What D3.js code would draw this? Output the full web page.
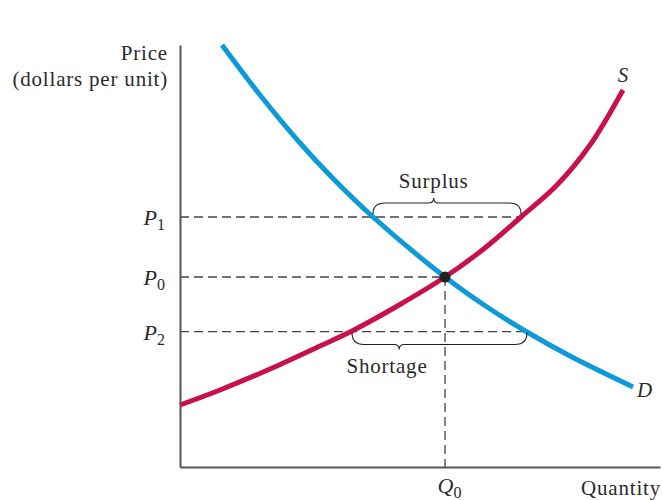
<!DOCTYPE html>
<html>
<head>
<meta charset="utf-8">
<script src="https://cdn.jsdelivr.net/npm/d3@7"></script>
<style>
  html, body { margin: 0; padding: 0; background: #fff; }
  svg text { font-family: "Liberation Serif", "DejaVu Serif", serif; fill: #2a2a2a; }
</style>
</head>
<body>
<svg id="chart" width="662" height="500"></svg>
<script>
// ---- data (axes 0..100 in arbitrary units) ----
const demandQuantity = [8.75, 16.67, 25.0, 31.88, 40.21, 55.21, 63.96, 72.29, 81.25, 94.38];
const demandPrice    = [100, 88.15, 76.78, 68.36, 59.24, 45.02, 37.91, 31.99, 26.30, 18.96];
const supplyQuantity = [0, 8.33, 18.75, 29.17, 35.83, 45.83, 55.21, 63.13, 71.04, 78.54, 85.42, 92.29];
const supplyPrice    = [14.69, 18.25, 23.22, 28.67, 32.23, 38.51, 45.02, 51.54, 59.24, 66.82, 76.30, 89.34];
const priceLevels    = [59.24, 45.02, 32.1];
const priceLabels    = [["P", "1"], ["P", "0"], ["P", "2"]];
const equilibriumQ   = [55.21];
const quantityLabels = [["Q", "0"]];
const surplusRange   = [40.21, 71.04];   // demand and supply quantities at P1
const shortageRange  = [35.83, 72.29];   // supply and demand quantities at P2

const svg = d3.select("#chart");
const x = d3.scaleLinear().domain([0, 100]).range([180, 660]);
const y = d3.scaleLinear().domain([0, 100]).range([467, 45]);

const line = d3.line().x(d => x(d[0])).y(d => y(d[1])).curve(d3.curveCatmullRom.alpha(0.5));
const demand = demandQuantity.map((q, i) => [q, demandPrice[i]]);
const supply = supplyQuantity.map((q, i) => [q, supplyPrice[i]]);

const FS = 21, LS = "0.8px";

// dashed guide lines
const dash = "9,5";
const g = svg.append("g");
const guideEnds = [surplusRange[1], equilibriumQ[0], shortageRange[1]];
g.selectAll("line.h").data(priceLevels).join("line")
  .attr("x1", x(0)).attr("x2", (d, i) => x(guideEnds[i]))
  .attr("y1", d => y(d)).attr("y2", d => y(d))
  .attr("stroke", "#444").attr("stroke-width", 1.3).attr("stroke-dasharray", dash);
g.selectAll("line.v").data(equilibriumQ).join("line")
  .attr("x1", d => x(d)).attr("x2", d => x(d))
  .attr("y1", y(priceLevels[1])).attr("y2", y(0))
  .attr("stroke", "#444").attr("stroke-width", 1.3).attr("stroke-dasharray", dash);

// axes
const yAxis = d3.axisLeft(y).tickValues(priceLevels).tickSize(0).tickSizeOuter(0).tickPadding(15).tickFormat("");
const xAxis = d3.axisBottom(x).tickValues(equilibriumQ).tickSize(0).tickSizeOuter(0).tickFormat("");
const ya = svg.append("g").attr("transform", `translate(${x(0)},0)`).call(yAxis);
const xa = svg.append("g").attr("transform", `translate(0,${y(0)})`).call(xAxis);
[ya, xa].forEach(a => a.select(".domain").attr("stroke", "#555").attr("stroke-width", 2));

ya.selectAll(".tick text").each(function(d, i) {
  const t = d3.select(this).attr("font-size", 22).attr("dy", "0.36em").attr("text-anchor", "end");
  t.append("tspan").attr("font-style", "italic").text(priceLabels[i][0]);
  t.append("tspan").attr("font-size", 16).attr("dy", "0.3em").text(priceLabels[i][1]);
});
xa.selectAll(".tick text").each(function(d, i) {
  const t = d3.select(this).attr("font-size", 22).attr("y", 26).attr("dy", 0)
    .attr("dx", -8).attr("text-anchor", "start");
  t.append("tspan").attr("font-style", "italic").text(quantityLabels[i][0]);
  t.append("tspan").attr("font-size", 16).attr("dy", "0.3em").text(quantityLabels[i][1]);
});

// curves
svg.append("path").datum(supply).attr("d", line)
  .attr("fill", "none").attr("stroke", "#c8104a").attr("stroke-width", 5);
svg.append("path").datum(demand).attr("d", line)
  .attr("fill", "none").attr("stroke", "#0e9ad8").attr("stroke-width", 5);

// equilibrium point
svg.append("circle").attr("cx", x(equilibriumQ[0])).attr("cy", y(priceLevels[1]))
  .attr("r", 5.5).attr("fill", "#222");

// braces
function brace(x1, x2, xm, y0, dir, h) {
  const r = 12, yl = y0 + dir * h, yt = yl + dir * 5;
  return `M${x1},${y0} Q${x1},${yl} ${x1 + r},${yl} L${xm - 5},${yl} Q${xm},${yl} ${xm},${yt} ` +
         `Q${xm},${yl} ${xm + 5},${yl} L${x2 - r},${yl} Q${x2},${yl} ${x2},${y0}`;
}
const sx1 = x(surplusRange[0]), sx2 = x(surplusRange[1]);
svg.append("path").attr("d", brace(sx1, sx2, sx1 + (sx2 - sx1) * 0.41, y(priceLevels[0]) - 3, -1, 11))
  .attr("fill", "none").attr("stroke", "#222").attr("stroke-width", 1.1);
const hx1 = x(shortageRange[0]), hx2 = x(shortageRange[1]);
svg.append("path").attr("d", brace(hx1, hx2, hx1 + (hx2 - hx1) * 0.27, y(priceLevels[2]) + 1, 1, 12))
  .attr("fill", "none").attr("stroke", "#222").attr("stroke-width", 1.1);

// text labels
function label(tx, ty, anchor, s) {
  return svg.append("text").attr("x", tx).attr("y", ty).attr("text-anchor", anchor)
    .attr("font-size", FS).attr("letter-spacing", LS).text(s);
}
label(sx1 + (sx2 - sx1) * 0.41, 188, "middle", "Surplus");
label(hx1 + (hx2 - hx1) * 0.2, 373, "middle", "Shortage");
label(168, 60, "end", "Price");
label(168, 86, "end", "(dollars per unit)");
label(661, 495, "end", "Quantity");
svg.append("text").attr("x", x(supplyQuantity[supplyQuantity.length - 1])).attr("y", 82).attr("text-anchor", "middle")
  .attr("font-size", 21).attr("font-style", "italic").text("S");
svg.append("text").attr("x", x(demandQuantity[demandQuantity.length - 1]) + 4).attr("y", 397)
  .attr("font-size", 21).attr("font-style", "italic").text("D");
</script>
</body>
</html>
